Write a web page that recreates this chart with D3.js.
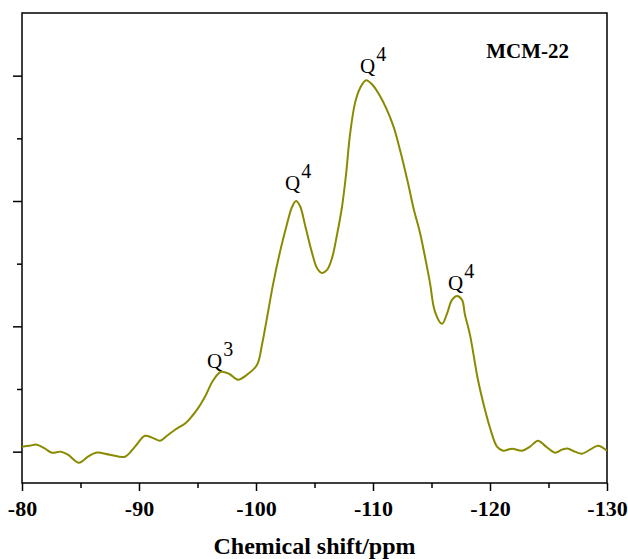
<!DOCTYPE html>
<html>
<head>
<meta charset="utf-8">
<script src="https://cdn.jsdelivr.net/npm/d3@7"></script>
<style>
  body { margin: 0; background: #fff; }
  text { font-family: "Liberation Serif", "Times New Roman", serif; }
</style>
</head>
<body>
<div id="chart"></div>
<script>
// 29Si MAS NMR spectrum, MCM-22
var shift = [-80.0, -80.68, -81.28, -81.97, -82.56, -83.33, -83.93, -84.87, -85.64, -86.32,
  -87.52, -88.80, -89.66, -90.51, -91.11, -91.79, -92.39, -93.08, -94.02, -94.96,
  -95.64, -96.32, -97.01, -97.69, -98.46, -99.23, -100.09, -100.51, -100.94, -101.45,
  -102.05, -102.65, -103.08, -103.42, -103.76, -104.19, -104.79, -105.21, -105.64, -106.07,
  -106.50, -106.92, -107.35, -107.69, -108.03, -108.46, -108.89, -109.40, -109.91, -110.60,
  -111.71, -112.31, -112.99, -113.50, -114.02, -114.53, -114.87, -115.30, -115.90, -116.32,
  -116.75, -117.18, -117.61, -117.86, -118.29, -118.97, -119.57, -120.00, -120.60, -121.11,
  -121.88, -122.74, -123.42, -124.10, -124.79, -125.56, -126.15, -126.67, -127.26, -127.86,
  -128.55, -129.23, -130.0];
var intensity = [0.040, 0.048, 0.056, 0.024, -0.008, 0.000, -0.024, -0.088, -0.040, -0.008,
  -0.024, -0.040, 0.040, 0.127, 0.112, 0.088, 0.127, 0.175, 0.231, 0.335,
  0.438, 0.566, 0.637, 0.622, 0.574, 0.614, 0.693, 0.853, 1.068, 1.331,
  1.594, 1.817, 1.952, 2.000, 1.960, 1.809, 1.586, 1.466, 1.426, 1.450,
  1.546, 1.729, 1.952, 2.207, 2.526, 2.781, 2.900, 2.964, 2.932, 2.837,
  2.606, 2.406, 2.143, 1.928, 1.745, 1.514, 1.347, 1.116, 1.020, 1.100,
  1.211, 1.243, 1.211, 1.092, 0.932, 0.574, 0.335, 0.191, 0.040, 0.008,
  0.024, 0.008, 0.040, 0.088, 0.040, -0.008, 0.016, 0.024, 0.000, -0.016,
  0.016, 0.048, 0.008];

// peak labels: Q + superscript, anchored at a point in data units
var labelShift = [-95.81, -102.48, -108.89, -116.41];
var labelIntensity = [0.669, 2.088, 3.020, 1.291];
var labelSup = ["3", "4", "4", "4"];

var xTicks = [-80, -90, -100, -110, -120, -130];
var xMinor = [-85, -95, -105, -115, -125];
var yTicks = [0, 1, 2, 3];
var yMinor = [0.5, 1.5, 2.5];

var margin = {top: 13, right: 21, bottom: 76, left: 22};
var width = 628 - margin.left - margin.right;
var height = 559 - margin.top - margin.bottom;

var svg = d3.select("#chart").append("svg")
    .attr("width", 628)
    .attr("height", 559)
    .append("g")
    .attr("transform", "translate(" + margin.left + "," + margin.top + ")");

var x = d3.scaleLinear().domain([-80, -130]).range([0, width]);
var y = d3.scaleLinear().domain([-0.25, 3.5]).range([height, 0]);

// frame
svg.append("rect")
    .attr("x", 0).attr("y", 0)
    .attr("width", width).attr("height", height)
    .attr("fill", "none")
    .attr("stroke", "#000")
    .attr("stroke-width", 1.5);

// bottom axis, major + minor
var xAxis = d3.axisBottom(x)
    .tickValues(xTicks)
    .tickSize(8)
    .tickPadding(9)
    .tickFormat(function(d) { return String(d); });

var gx = svg.append("g")
    .attr("transform", "translate(0," + height + ")")
    .call(xAxis);

svg.append("g")
    .attr("transform", "translate(0," + height + ")")
    .call(d3.axisBottom(x).tickValues(xMinor).tickSize(5).tickFormat(""));

// left axis, ticks only
svg.append("g")
    .call(d3.axisLeft(y).tickValues(yTicks).tickSize(9).tickFormat(""));
svg.append("g")
    .call(d3.axisLeft(y).tickValues(yMinor).tickSize(5).tickFormat(""));

svg.selectAll(".domain").remove();
svg.selectAll(".tick line").attr("stroke", "#000").attr("stroke-width", 1.5);

gx.selectAll("text")
    .style("font-family", "'Liberation Serif', 'Times New Roman', serif")
    .style("font-size", "22px")
    .style("font-weight", "bold")
    .attr("fill", "#000");

// axis title
svg.append("text")
    .attr("x", width / 2)
    .attr("y", height + 71)
    .style("text-anchor", "middle")
    .style("font-size", "24px")
    .style("font-weight", "bold")
    .text("Chemical shift/ppm");

// spectrum
var pts = shift.map(function(d, i) { return [d, intensity[i]]; });

var line = d3.line()
    .x(function(d) { return x(d[0]); })
    .y(function(d) { return y(d[1]); })
    .curve(d3.curveCatmullRom.alpha(0.5));

svg.append("path")
    .datum(pts)
    .attr("fill", "none")
    .attr("stroke", "#8a8a00")
    .attr("stroke-width", 2)
    .attr("d", line);

// peak labels
labelShift.forEach(function(d, i) {
    var t = svg.append("text")
        .attr("x", x(d))
        .attr("y", y(labelIntensity[i]))
        .style("font-size", "21px")
        .attr("fill", "#000");
    t.append("tspan").text("Q");
    t.append("tspan")
        .attr("dx", 1)
        .attr("dy", -12)
        .style("font-size", "20px")
        .text(labelSup[i]);
});

// sample name
svg.append("text")
    .attr("x", 547)
    .attr("y", 45)
    .style("text-anchor", "end")
    .style("font-size", "21px")
    .style("font-weight", "bold")
    .text("MCM-22");
</script>
</body>
</html>
